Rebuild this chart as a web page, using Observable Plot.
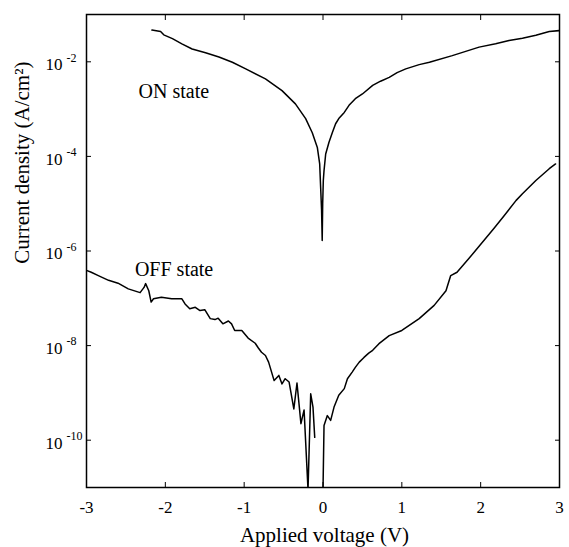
<!DOCTYPE html>
<html>
<head>
<meta charset="utf-8">
<script src="https://cdn.jsdelivr.net/npm/d3@7"></script>
<script src="https://cdn.jsdelivr.net/npm/@observablehq/plot@0.6"></script>
<style>
  html, body { margin: 0; padding: 0; background: #fff; }
  svg text { font-family: "Liberation Serif", "Times New Roman", serif; }
</style>
</head>
<body>
<div id="chart"></div>
<script>
// ON state: applied voltage (V) and log10 of current density (A/cm^2)
const onV = [-2.17, -2.06, -2.02, -1.91, -1.79, -1.66, -1.49, -1.32, -1.15, -0.98, -0.73, -0.52, -0.35, -0.22, -0.136, -0.072, -0.042, -0.030, -0.018, -0.010, -0.004, 0.004, 0.013, 0.034, 0.076, 0.12, 0.16, 0.20, 0.27, 0.33, 0.41, 0.50, 0.63, 0.73, 0.84, 0.94, 1.05, 1.22, 1.35, 1.64, 1.81, 1.98, 2.19, 2.36, 2.53, 2.70, 2.87, 3.00];
const onLogJ = [-1.33, -1.36, -1.43, -1.51, -1.62, -1.73, -1.81, -1.90, -2.01, -2.15, -2.36, -2.61, -2.89, -3.20, -3.50, -3.81, -4.16, -4.65, -5.14, -5.78, -5.00, -4.51, -4.30, -3.95, -3.70, -3.49, -3.31, -3.20, -3.07, -2.92, -2.78, -2.68, -2.50, -2.41, -2.33, -2.23, -2.15, -2.06, -2.01, -1.87, -1.78, -1.69, -1.62, -1.55, -1.50, -1.44, -1.36, -1.34];

// OFF state: two measured segments (gap near 0 V)
const offV = [-3.00, -2.94, -2.85, -2.72, -2.60, -2.47, -2.32, -2.27, -2.25, -2.21, -2.18, -2.15, -2.05, -1.92, -1.79, -1.75, -1.69, -1.62, -1.56, -1.50, -1.43, -1.37, -1.33, -1.27, -1.20, -1.16, -1.12, -1.03, -0.95, -0.86, -0.82, -0.78, -0.73, -0.69, -0.62, -0.56, -0.52, -0.48, -0.43, -0.37, -0.33, -0.28, -0.24, -0.19, -0.156, -0.127, -0.105,
  0.00, 0.013, 0.055, 0.097, 0.14, 0.20, 0.27, 0.31, 0.37, 0.41, 0.46, 0.52, 0.58, 0.63, 0.71, 0.84, 1.00, 1.22, 1.41, 1.56, 1.62, 1.70, 1.85, 1.98, 2.17, 2.30, 2.45, 2.53, 2.70, 2.87, 2.95];
const offLogJ = [-6.41, -6.45, -6.52, -6.62, -6.68, -6.80, -6.88, -6.77, -6.69, -6.84, -7.08, -7.01, -6.98, -7.01, -7.01, -7.12, -7.22, -7.19, -7.26, -7.24, -7.43, -7.45, -7.42, -7.54, -7.48, -7.54, -7.68, -7.68, -7.84, -7.95, -8.05, -8.14, -8.21, -8.35, -8.74, -8.63, -8.81, -8.70, -8.77, -9.34, -8.79, -9.65, -9.36, -11.05, -9.02, -9.30, -9.94,
  -11.05, -9.69, -9.48, -9.58, -9.30, -9.05, -8.91, -8.70, -8.56, -8.46, -8.35, -8.25, -8.16, -8.10, -7.96, -7.79, -7.68, -7.43, -7.15, -6.84, -6.52, -6.45, -6.16, -5.90, -5.52, -5.25, -4.93, -4.79, -4.51, -4.26, -4.16];
const offSegment = offV.map((v, i) => (i < 47 ? "a" : "b"));

// Axes
const xTicks = [-3, -2, -1, 0, 1, 2, 3];
const yTickExponents = [-10, -8, -6, -4, -2];
const xLabel = "Applied voltage (V)";
const yLabel = "Current density (A/cm\u00B2)";
const yLabelLogJ = -6.27; // vertical centre of the y-axis title

// Annotations
const annotText = ["ON state", "OFF state"];
const annotV = [-2.34, -2.386];
const annotLogJ = [-2.62, -6.40];

const font = '"Liberation Serif", "Times New Roman", serif';
const onData = onV.map((v, i) => ({ v, j: Math.pow(10, onLogJ[i]) }));
const offData = offV.map((v, i) => ({ v, j: Math.pow(10, offLogJ[i]), seg: offSegment[i] }));
const yTicks = yTickExponents.map(e => Math.pow(10, e));
const annot = annotText.map((t, i) => ({ t, v: annotV[i], j: Math.pow(10, annotLogJ[i]) }));

const chart = Plot.plot({
  width: 569,
  height: 547,
  marginLeft: 86,
  marginRight: 10,
  marginTop: 14,
  marginBottom: 60,
  style: { fontFamily: font, background: "#fff", color: "#000" },
  x: { domain: [-3, 3] },
  y: { type: "log", domain: [1e-11, 1e-1] },
  marks: [
    Plot.line(onData, { x: "v", y: "j", stroke: "#000", strokeWidth: 1.5, clip: true }),
    Plot.line(offData, { x: "v", y: "j", z: "seg", stroke: "#000", strokeWidth: 1.5, clip: true }),
    Plot.frame({ stroke: "#000", strokeWidth: 1.5 }),
    Plot.axisX({ anchor: "bottom", ticks: xTicks, tickSize: -5, tickFormat: () => "", label: null }),
    Plot.axisX({ anchor: "top", ticks: xTicks, tickSize: -5, tickFormat: () => "", label: null }),
    Plot.axisY({ anchor: "left", ticks: yTicks, tickSize: -5, tickFormat: () => "", label: null }),
    Plot.axisY({ anchor: "right", ticks: yTicks, tickSize: -5, tickFormat: () => "", label: null }),
    Plot.text(xTicks, { x: d => d, frameAnchor: "bottom", dy: 20, text: d => String(d), fontSize: 17, fontFamily: font, lineAnchor: "middle" }),
    Plot.text(yTicks, { y: d => d, frameAnchor: "left", text: () => "10", textAnchor: "end", dx: -24, dy: 3, fontSize: 17, fontFamily: font, lineAnchor: "middle" }),
    Plot.text(yTicks, { y: d => d, frameAnchor: "left", text: d => String(Math.round(Math.log10(d))), textAnchor: "start", dx: -20, dy: -4, fontSize: 12, fontFamily: font, lineAnchor: "middle" }),
    Plot.text([xLabel], { frameAnchor: "bottom", dx: 1.5, dy: 48, fontSize: 21, fontFamily: font, lineAnchor: "middle" }),
    Plot.text([yLabel], { y: () => Math.pow(10, yLabelLogJ), frameAnchor: "left", rotate: -90, dx: -64, fontSize: 21, fontFamily: font, lineAnchor: "middle" }),
    Plot.text(annot, { x: "v", y: "j", text: "t", textAnchor: "start", fontSize: 20, fontFamily: font, lineAnchor: "middle" })
  ]
});
document.getElementById("chart").appendChild(chart);
</script>
</body>
</html>
